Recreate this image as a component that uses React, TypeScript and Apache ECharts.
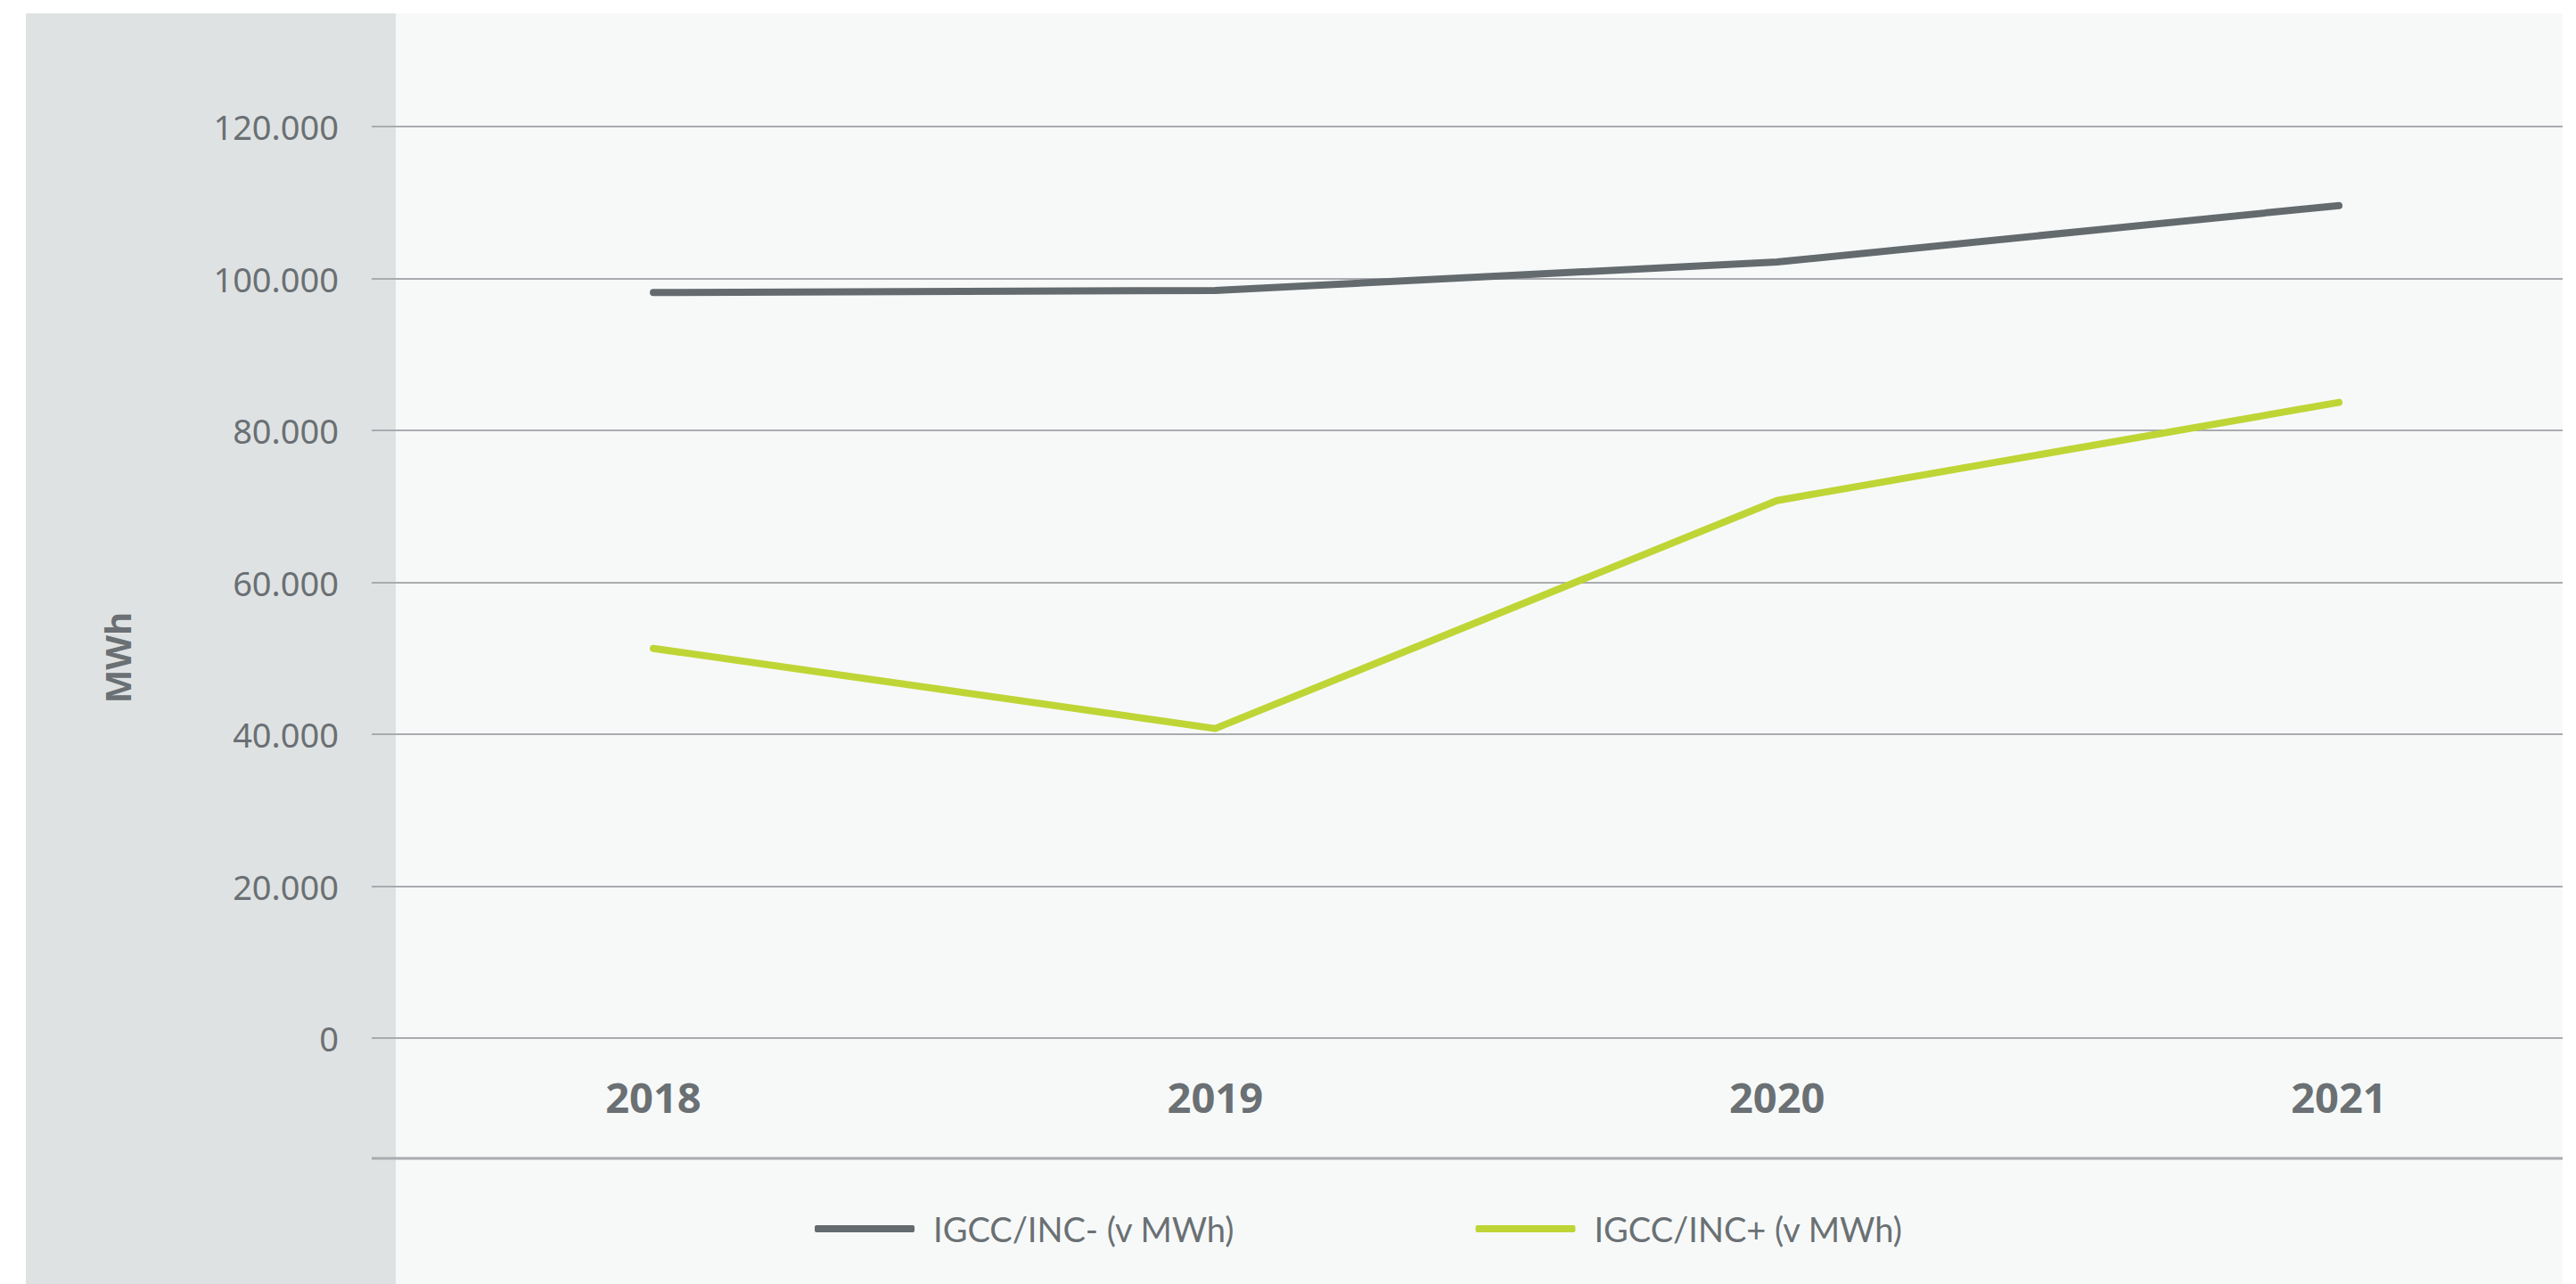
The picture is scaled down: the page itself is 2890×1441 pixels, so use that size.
import React, { useEffect, useRef } from "react";
import * as echarts from "echarts";

const years = ["2018", "2019", "2020", "2021"];
const igccMinus = [98150, 98420, 102170, 109600];
const igccPlus = [51300, 40750, 70770, 83680];
const seriesNames = ["IGCC/INC- (v MWh)", "IGCC/INC+ (v MWh)"];
const yTicks = { min: 0, max: 120000, interval: 20000 };
const axisTitle = "MWh";

const DARK = "#646b6e";
const GREEN = "#bfd536";
const TEXT = "#6a7073";
const GRIDLINE = "#a9abaf";

const fmt = (v: number) => String(v).replace(/\B(?=(\d{3})+(?!\d))/g, ".");

export default function App() {
  const ref = useRef<HTMLDivElement>(null);
  useEffect(() => {
    if (!ref.current) return;
    const chart = echarts.init(ref.current, undefined, { renderer: "svg" });
    chart.setOption({
      animation: false,
      backgroundColor: "#ffffff",
      graphic: [
        { type: "rect", z: -10, shape: { x: 29, y: 15, width: 415, height: 1426 }, style: { fill: "#dfe2e3" } },
        { type: "rect", z: -10, shape: { x: 444, y: 15, width: 2431, height: 1426 }, style: { fill: "#f7f9f9" } },
        { type: "line", z: 1, shape: { x1: 417, y1: 1300, x2: 2875, y2: 1300 }, style: { stroke: GRIDLINE, lineWidth: 3 } },
        {
          type: "text",
          x: 131,
          y: 738,
          rotation: Math.PI / 2,
          style: {
            text: axisTitle,
            fill: TEXT,
            font: "bold 40px 'Open Sans'",
            textAlign: "center",
            textVerticalAlign: "middle",
          },
        },
      ],
      grid: [
        { left: 417, right: 15, top: 142, bottom: 276 },
        { left: 733, right: 266, top: 142, bottom: 276 },
      ],
      xAxis: [
        { type: "category", gridIndex: 0, data: years, show: false },
        {
          type: "category",
          gridIndex: 1,
          data: years,
          boundaryGap: false,
          axisLine: { show: false },
          axisTick: { show: false },
          splitLine: { show: false },
          axisLabel: {
            margin: 42,
            color: TEXT,
            fontFamily: "'Open Sans'",
            fontWeight: "bold",
            fontSize: 47,
          },
        },
      ],
      yAxis: [
        {
          type: "value",
          gridIndex: 0,
          min: yTicks.min,
          max: yTicks.max,
          interval: yTicks.interval,
          axisLine: { show: false },
          axisTick: { show: false },
          splitLine: { show: true, lineStyle: { color: GRIDLINE, width: 2 } },
          axisLabel: {
            margin: 37,
            color: TEXT,
            fontFamily: "'Noto Sans'",
            fontSize: 38,
            formatter: (v: number) => fmt(v),
          },
        },
        {
          type: "value",
          gridIndex: 1,
          min: yTicks.min,
          max: yTicks.max,
          interval: yTicks.interval,
          show: false,
          splitLine: { show: false },
        },
      ],
      legend: {
        left: 914,
        top: 1357,
        padding: 0,
        itemWidth: 112,
        itemHeight: 8,
        itemGap: 270,
        icon: "roundRect",
        textStyle: {
          color: TEXT,
          fontFamily: "Lato",
          fontSize: 38,
          lineHeight: 44,
          padding: [0, 0, 0, 16],
        },
        data: seriesNames,
      },
      series: [
        {
          name: seriesNames[0],
          type: "line",
          xAxisIndex: 1,
          yAxisIndex: 1,
          data: igccMinus,
          symbol: "none",
          showSymbol: false,
          itemStyle: { color: DARK },
          lineStyle: { color: DARK, width: 8, cap: "round", join: "round" },
          z: 5,
        },
        {
          name: seriesNames[1],
          type: "line",
          xAxisIndex: 1,
          yAxisIndex: 1,
          data: igccPlus,
          symbol: "none",
          showSymbol: false,
          itemStyle: { color: GREEN },
          lineStyle: { color: GREEN, width: 8, cap: "round", join: "round" },
          z: 5,
        },
      ],
    });
    return () => chart.dispose();
  }, []);
  return (
    <div
      ref={ref}
      style={{ position: "fixed", left: 0, top: 0, width: 2890, height: 1441 }}
    />
  );
}
